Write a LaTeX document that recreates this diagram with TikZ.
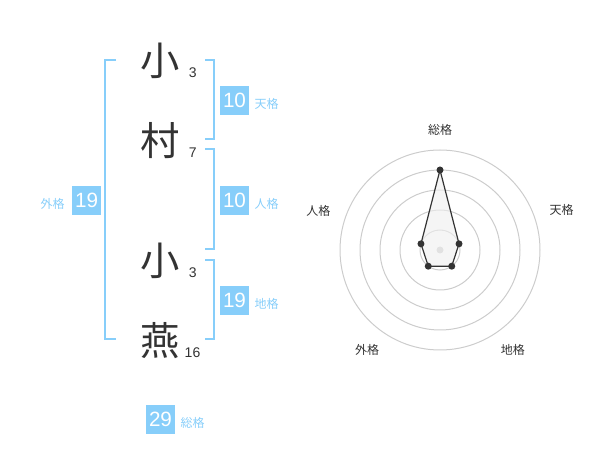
\documentclass[tikz,border=0pt]{standalone}
\usepackage{fontspec}
\setmainfont{Liberation Sans}
\newfontfamily\jp{Noto Sans CJK JP}
\usetikzlibrary{positioning}
\definecolor{skyline}{HTML}{87CEFA}
\definecolor{ink}{HTML}{333333}
\definecolor{ring}{HTML}{CCCCCC}

\begin{document}
\begin{tikzpicture}[x=0.75pt, y=-0.75pt,
    kanji/.style={font=\jp\fontsize{29.5}{29.5}\selectfont, text=ink, inner sep=0},
    strokes/.style={font=\fontsize{10.5}{10.5}\selectfont, text=ink, inner sep=0},
    score/.style={rectangle, fill=skyline, text=white, minimum size=21.75pt, inner sep=0, font=\fontsize{15.5}{15.5}\selectfont},
    kaku/.style={font=\jp\fontsize{9}{9}\selectfont, text=skyline, inner sep=0},
    bracket/.style={draw=skyline, line width=1.5pt},
    axis/.style={font=\jp\fontsize{9}{9}\selectfont, text=ink, inner sep=0},
    dot/.style={circle, fill=ink, inner sep=0, minimum size=5.25pt}]
    \useasboundingbox (0,0) rectangle (600,470);

    % Name
    \node [kanji] (c1) at (160,61) {小};
    \node [kanji] (c2) at (160,141) {村};
    \node [kanji] (c3) at (160,261) {小};
    \node [kanji] (c4) at (160,341) {燕};
    \node [strokes] (n1) at (192.7,72.7) {3};
    \node [strokes] (n2) at (192.7,152.7) {7};
    \node [strokes] (n3) at (192.7,272.7) {3};
    \node [strokes] (n4) at (192.5,352.7) {16};

    % Brackets
    \draw [bracket] (116,60) -- (105,60) -- (105,339.3) -- (116,339.3);
    \draw [bracket] (205,60) -- (214.3,60) -- (214.3,139.3) -- (205,139.3);
    \draw [bracket] (205,149.3) -- (214.3,149.3) -- (214.3,249.3) -- (205,249.3);
    \draw [bracket] (205,260) -- (214.3,260) -- (214.3,339.3) -- (205,339.3);

    % Scores
    \node [score] (ten) at (234.5,100.5) {10};
    \node [kaku, right=3.75pt of ten, yshift=-2.5pt] (tenlabel) {天格};
    \node [score] (jin) at (234.5,200.5) {10};
    \node [kaku, right=3.75pt of jin, yshift=-2.5pt] (jinlabel) {人格};
    \node [score] (chi) at (234.5,300.5) {19};
    \node [kaku, right=3.75pt of chi, yshift=-2.5pt] (chilabel) {地格};
    \node [score] (gai) at (86.7,200.5) {19};
    \node [kaku, left=5.25pt of gai, yshift=-2.5pt] (gailabel) {外格};
    \node [score] (sou) at (160.5,419.5) {29};
    \node [kaku, right=3.75pt of sou, yshift=-2.5pt] (soulabel) {総格};

    % Radar
    \begin{scope}[shift={(440,250)}, yscale=-1]
        \foreach \r in {20,40,60,80,100}
            \draw [ring, line width=0.75pt] (0,0) circle (\r);
        \fill [ring] (0,0) circle (3.5);
        \coordinate (psou) at (90:80);
        \coordinate (pten) at (18:20);
        \coordinate (pchi) at (-54:20);
        \coordinate (pgai) at (234:20);
        \coordinate (pjin) at (162:20);
        \draw [ink, fill=ink!8, fill opacity=0.6, line width=0.9pt] (psou) -- (pten) -- (pchi) -- (pgai) -- (pjin) -- cycle;
        \foreach \p in {psou,pten,pchi,pgai,pjin}
            \node [dot] at (\p) {};
        \node [axis] (asou) at (90:120) {総格};
        \node [axis] (aten) at (18:128) {天格};
        \node [axis] (achi) at (-54:124) {地格};
        \node [axis] (agai) at (234:124) {外格};
        \node [axis] (ajin) at (162:128) {人格};
    \end{scope}
\end{tikzpicture}
\end{document}
